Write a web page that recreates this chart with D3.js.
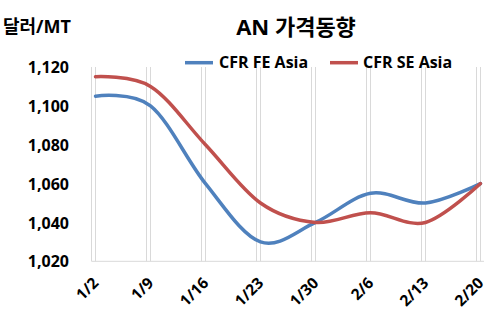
<!DOCTYPE html>
<html><head><meta charset="utf-8">
<script src="https://cdn.jsdelivr.net/npm/d3@7"></script>
<style>
body{margin:0;background:#fff;}
text{font-family:"Open Sans","Noto Sans CJK KR",sans-serif;font-weight:bold;fill:#000;}
</style></head>
<body><svg id="c" width="491" height="327"></svg>
<script>
const categories = ["1/2","1/9","1/16","1/23","1/30","2/6","2/13","2/20"];
const feAsia = [1105,1100,1060,1030,1040,1055,1050,1060];
const seAsia = [1115,1110,1080,1050,1040,1045,1040,1060];
const yTicks = [1020,1040,1060,1080,1100,1120];
const seriesNames = ["CFR FE Asia","CFR SE Asia"];
const colors = ["#4f81bd","#c0504d"];

const svg = d3.select("#c");
const x = d3.scalePoint().domain(categories).range([95.5,480.5]);
const y = d3.scaleLinear().domain([1020,1120]).range([261.3,67]);

// vertical gridlines (double lines per category)
const g = svg.append("g");
categories.forEach(c=>{
  [x(c)-4, x(c)].forEach(px=>{
    g.append("line").attr("x1",px).attr("x2",px).attr("y1",y(1120)).attr("y2",y(1020))
     .attr("stroke","#d9d9d9").attr("stroke-width",1);
  });
});
g.append("line").attr("x1",x(categories[0])-4).attr("x2",484).attr("y1",y(1020)).attr("y2",y(1020))
 .attr("stroke","#d9d9d9").attr("stroke-width",1);

// y axis labels
const yAxis = d3.axisLeft(y).tickValues(yTicks).tickFormat(d3.format(",")).tickSize(0).tickPadding(0);
const ya = svg.append("g").attr("transform","translate(69,0)").call(yAxis);
ya.select(".domain").remove();
ya.attr("font-family",null).attr("font-size",null);
ya.selectAll("text").style("font-size","16px").attr("dy","0.35em");

// x axis labels
categories.forEach(c=>{
  svg.append("text").attr("transform",`translate(${x(c)+4},284) rotate(-45)`)
    .attr("text-anchor","end").style("font-size","15.5px").text(c);
});

// lines
const line = d3.line().x((d,i)=>x(categories[i])).y(d=>y(d)).curve(d3.curveCatmullRom.alpha(0));
[feAsia, seAsia].forEach((s,i)=>{
  svg.append("path").attr("d",line(s)).attr("fill","none").attr("stroke",colors[i])
    .attr("stroke-width",3.5).attr("stroke-linecap","round");
});

// title
svg.append("text").attr("x",296).attr("y",35).attr("text-anchor","middle").style("font-size","22px").text("AN 가격동향");
svg.append("text").attr("x",3).attr("y",33).style("font-size","18px").text("달러/MT");

// legend
const leg = [[185,213,219],[330,358,363]];
seriesNames.forEach((n,i)=>{
  svg.append("line").attr("x1",leg[i][0]).attr("x2",leg[i][1]).attr("y1",62.7).attr("y2",62.7)
    .attr("stroke",colors[i]).attr("stroke-width",3.5);
  svg.append("text").attr("x",leg[i][2]).attr("y",68).style("font-size","16px").text(n);
});
</script></body></html>
